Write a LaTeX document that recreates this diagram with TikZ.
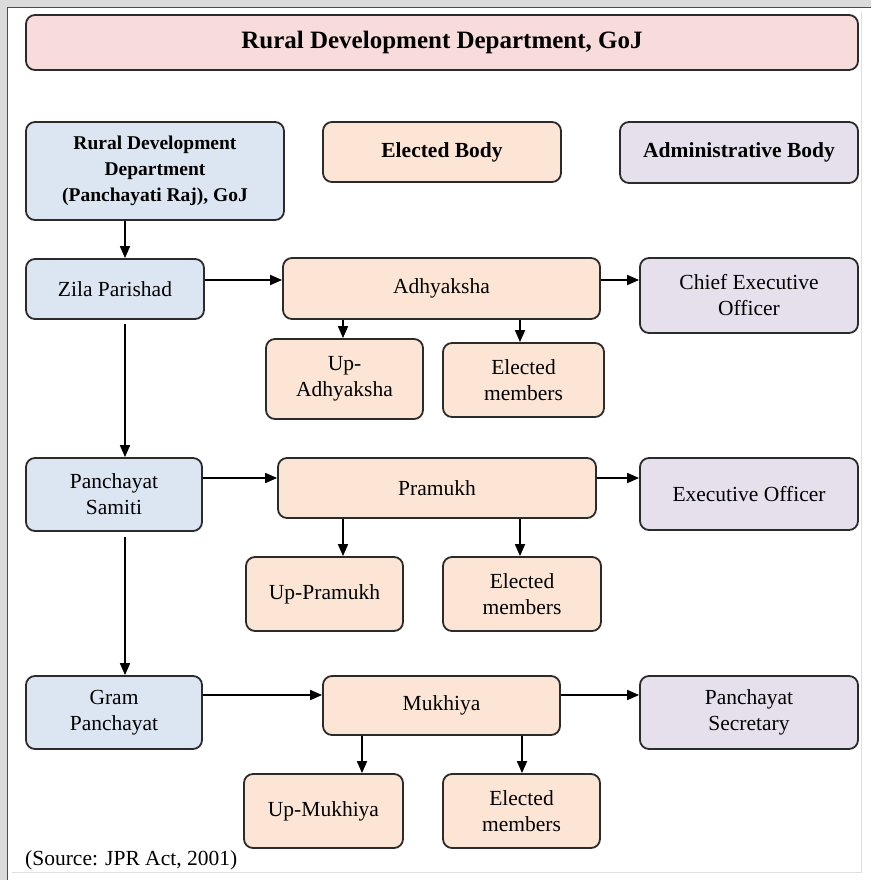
\documentclass[tikz,border=0pt]{standalone}
\usepackage{fontspec}
\setmainfont{Liberation Serif}
\usetikzlibrary{arrows.meta}
\definecolor{bluefill}{HTML}{DCE6F2}
\definecolor{peachfill}{HTML}{FCE5D4}
\definecolor{lavfill}{HTML}{E5E0EC}
\definecolor{pinkfill}{HTML}{F8DCDC}
\definecolor{edgecol}{HTML}{2B2B2B}
\tikzset{
  box/.style={draw=edgecol, line width=1.8pt, rounded corners=9pt, align=center,
    inner sep=2pt, font=\fontsize{21.5}{26}\selectfont},
  govbox/.style={box, fill=bluefill},
  elbox/.style={box, fill=peachfill},
  adbox/.style={box, fill=lavfill},
  titlebox/.style={box, fill=pinkfill, font=\fontsize{25}{30}\selectfont\bfseries},
  arr/.style={line width=1.7pt, draw=black, -{Triangle[length=12pt,width=10pt]}},
}
\newcommand{\bx}[6]{% style, name, cx, cy, w, h
  \node[#1, minimum width=#5pt, minimum height=#6pt] (#2) at (#3pt,-#4pt)}
\begin{document}
\begin{tikzpicture}[x=1pt,y=1pt]
\useasboundingbox (0,0) rectangle (871,-880);
\fill[white] (0,0) rectangle (871,-880);
\fill[gray!28] (0,0) rectangle (871,-7);
\fill[gray!28] (0,0) rectangle (7,-880);
\draw[gray!60!black, line width=1.3pt] (7.5,-880) -- (7.5,-7.5) -- (871,-7.5);
\draw[gray!25, line width=0.8pt] (861,-12) -- (861,-872) -- (12,-872);

\bx{titlebox}{title}{442}{42.5}{832}{55} {Rural Development Department, GoJ};
\bx{govbox}{rdd}{155}{171}{258}{98} {\fontsize{19.5}{24}\selectfont\bfseries Rural Development\\\fontsize{19.5}{24}\selectfont\bfseries Department\\\fontsize{19.5}{24}\selectfont\bfseries (Panchayati Raj), GoJ};
\bx{elbox}{eb}{442}{152}{238}{60} {\bfseries Elected Body};
\bx{adbox}{ab}{739}{152.5}{238}{61} {\bfseries Administrative Body};

\bx{govbox}{zp}{115}{289}{178}{60} {Zila Parishad};
\bx{elbox}{adh}{441.5}{288.5}{317}{61} {Adhyaksha};
\bx{adbox}{ceo}{749}{295.5}{218}{75} {Chief Executive\\Officer};
\bx{elbox}{uad}{344.5}{379}{157}{80} {Up-\\Adhyaksha};
\bx{elbox}{em1}{523.5}{380}{161}{74} {Elected\\members};

\bx{govbox}{ps}{114}{494.5}{176}{73} {Panchayat\\Samiti};
\bx{elbox}{pra}{437}{488}{318}{60} {Pramukh};
\bx{adbox}{eo}{749}{494}{218}{72} {Executive Officer};
\bx{elbox}{upr}{324.5}{594}{157}{74} {Up-Pramukh};
\bx{elbox}{em2}{522}{594}{158}{74} {Elected\\members};

\bx{govbox}{gp}{114}{712.5}{176}{73} {Gram\\Panchayat};
\bx{elbox}{muk}{441.5}{705.5}{237}{59} {Mukhiya};
\bx{adbox}{sec}{749}{712.5}{218}{73} {Panchayat\\Secretary};
\bx{elbox}{umk}{323.5}{811}{159}{74} {Up-Mukhiya};
\bx{elbox}{em3}{521.5}{811}{157}{74} {Elected\\members};

\node[anchor=west, inner sep=0pt, font=\fontsize{21.5}{26}\selectfont] (src) at (25pt,-860pt) {(Source: JPR Act, 2001)};

% reference coordinates for connector positions
\coordinate (cl) at (125,0);
\coordinate (r1) at (0,-280);
\coordinate (r2) at (0,-478);
\coordinate (r3) at (0,-695);
\coordinate (ca) at (343,0);
\coordinate (cb) at (520,0);
\coordinate (cc) at (362,0);
\coordinate (cd) at (522,0);

% left spine
\draw[arr] (rdd.south -| cl) -- (zp.north -| cl);
\draw[arr, shorten <=4pt] (zp.south -| cl) -- (ps.north -| cl);
\draw[arr, shorten <=5pt] (ps.south -| cl) -- (gp.north -| cl);

% horizontal
\draw[arr] (zp.east |- r1) -- (adh.west |- r1);
\draw[arr] (adh.east |- r1) -- (ceo.west |- r1);
\draw[arr] (ps.east |- r2) -- (pra.west |- r2);
\draw[arr] (pra.east |- r2) -- (eo.west |- r2);
\draw[arr] (gp.east |- r3) -- (muk.west |- r3);
\draw[arr] (muk.east |- r3) -- (sec.west |- r3);

% down to subordinates
\draw[arr] (adh.south -| ca) -- (uad.north -| ca);
\draw[arr] (adh.south -| cb) -- (em1.north -| cb);
\draw[arr] (pra.south -| ca) -- (upr.north -| ca);
\draw[arr] (pra.south -| cb) -- (em2.north -| cb);
\draw[arr] (muk.south -| cc) -- (umk.north -| cc);
\draw[arr] (muk.south -| cd) -- (em3.north -| cd);
\end{tikzpicture}
\end{document}
